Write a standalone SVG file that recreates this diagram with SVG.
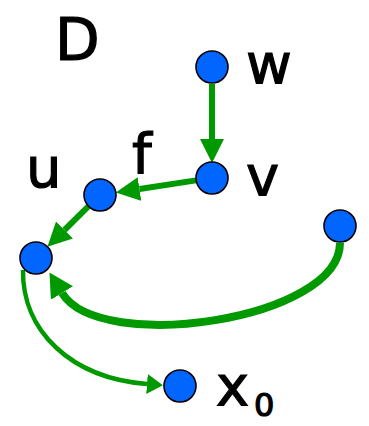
<svg xmlns="http://www.w3.org/2000/svg" width="369" height="426" viewBox="0 0 369 426">
<style>
.n{fill:#0066ff;stroke:#000;stroke-width:1.6}
.e{fill:none;stroke:#009900}
.t{font-family:"DejaVu Sans","Liberation Sans",sans-serif;fill:#000;stroke:#000;stroke-width:1.2}
</style>
<defs>
<marker id="a1" markerUnits="userSpaceOnUse" markerWidth="24" markerHeight="24" refX="0" refY="12" orient="auto"><path d="M0,0L24,12L0,24z" fill="#009900"/></marker>
<marker id="a2" markerUnits="userSpaceOnUse" markerWidth="24" markerHeight="26" refX="0" refY="13" orient="auto"><path d="M0,0L24,13L0,26z" fill="#009900"/></marker>
<marker id="a3" markerUnits="userSpaceOnUse" markerWidth="16" markerHeight="20" refX="0" refY="10" orient="auto"><path d="M0,0L16,10L0,20z" fill="#009900"/></marker>
</defs>
<rect width="369" height="426" fill="#fff"/>
<g id="edges">
<path class="e" stroke-width="6" d="M212,84L212,139" marker-end="url(#a1)"/>
<path class="e" stroke-width="6" d="M196,180.4L139.5,189" marker-end="url(#a1)"/>
<path class="e" stroke-width="6" d="M88.6,206.2L64.5,230" marker-end="url(#a1)"/>
<path class="e" stroke-width="8" d="M340,243C340,320 100,355 62,293" marker-end="url(#a2)"/>
<path class="e" stroke-width="4.5" d="M23,270C22,330 70,378 147,384" marker-end="url(#a3)"/>
</g>
<g id="node-w"><circle class="n" cx="212" cy="67" r="16"/><text class="t" x="246" y="83" font-size="56">w</text></g>
<g id="node-v"><circle class="n" cx="212" cy="178" r="16"/><text class="t" x="246" y="195" font-size="56">v</text></g>
<g id="node-u"><circle class="n" cx="100" cy="195" r="16"/><text class="t" x="26" y="187" font-size="56">u</text></g>
<g id="node-left"><circle class="n" cx="36" cy="258" r="16"/></g>
<g id="node-right"><circle class="n" cx="340" cy="226" r="16"/></g>
<g id="node-x0"><circle class="n" cx="180" cy="386" r="16"/><text class="t" x="216" y="405" font-size="56">x</text><text class="t" x="254" y="416" font-size="32">0</text></g>
<g id="labels">
<text class="t" x="55" y="60" font-size="58">D</text>
<text class="t" x="132" y="173" font-size="56">f</text>
</g>
</svg>
